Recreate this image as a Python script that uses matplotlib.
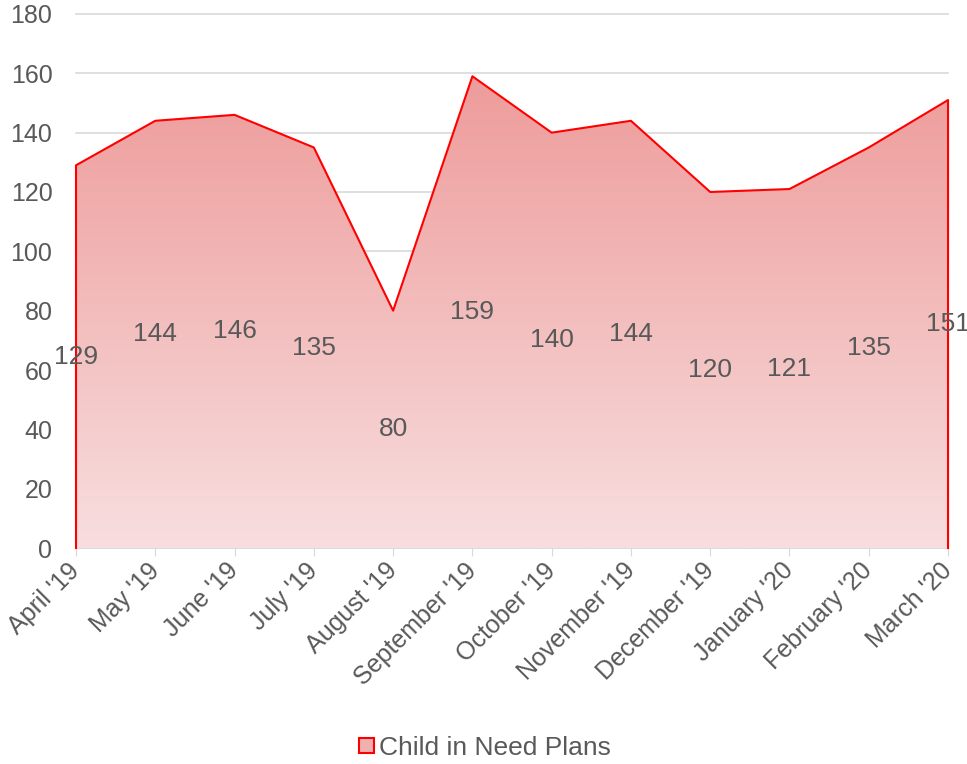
import numpy as np
from matplotlib import pyplot as plt
from matplotlib.colors import LinearSegmentedColormap
from matplotlib.patches import Polygon, Rectangle
from matplotlib.legend_handler import HandlerBase

plt.rcParams['font.family'] = ['Liberation Sans', 'DejaVu Sans']

months = ["April '19", "May '19", "June '19", "July '19", "August '19", "September '19",
          "October '19", "November '19", "December '19", "January '20", "February '20", "March '20"]
plans = [129, 144, 146, 135, 80, 159, 140, 144, 120, 121, 135, 151]
series_name = "Child in Need Plans"

text_col = "#595959"
top_col = "#EC9391"
bottom_col = "#F8DEDF"
fs = 18

fig = plt.figure(figsize=(9.67, 7.64), dpi=100)
ax = fig.add_axes([0.0786, 0.2827, 0.9018, 0.699])

x = np.arange(len(months))
ax.set_xlim(x[0], x[-1])
ax.set_ylim(0, 180)

# gradient fill clipped to the area polygon
cmap = LinearSegmentedColormap.from_list("grad", [bottom_col, top_col])
grad = np.linspace(0, 1, 256).reshape(-1, 1)
img = ax.imshow(grad, cmap=cmap, aspect='auto', origin='lower',
                extent=[x[0], x[-1], 0, 180], zorder=2)
verts = [(x[0], 0)] + list(zip(x, plans)) + [(x[-1], 0)]
poly = Polygon(verts, closed=True, facecolor='none', edgecolor='none')
ax.add_patch(poly)
img.set_clip_path(poly)

ax.plot(np.r_[x[0], x, x[-1]], np.r_[0, plans, 0], color='#FF0000', lw=1.5,
        zorder=3, clip_on=False)

for xi, v in zip(x, plans):
    ax.text(xi, v / 2, str(v), ha='center', va='center', fontsize=19, color=text_col, zorder=4)

ax.set_yticks(range(0, 181, 20))
ax.grid(axis='y', color='#D9D9D9', lw=1.2)
ax.set_axisbelow(True)
for s in ['top', 'right', 'left']:
    ax.spines[s].set_visible(False)
ax.spines['bottom'].set_color('#D9D9D9')
ax.spines['bottom'].set_linewidth(1.2)
ax.spines['bottom'].set_zorder(1)
ax.tick_params(axis='y', length=0, labelsize=fs, labelcolor=text_col, pad=17)
ax.tick_params(axis='x', length=6, color='#D9D9D9', labelsize=fs, labelcolor=text_col, pad=3)
ax.set_xticks(x)
ax.set_xticklabels(months, rotation=45, ha='right', va='center', rotation_mode='anchor')
for gl in ax.get_ygridlines():
    gl.set_clip_on(False)
for lbl in ax.get_xticklabels():
    lbl.set_y(-0.012)


class GradBox(HandlerBase):
    def create_artists(self, legend, orig, xd, yd, w, h, fontsize, trans):
        s = h * 0.8
        r = Rectangle((xd + w - s, yd + (h - s) / 2), s, s, facecolor='#F0B0B0',
                      edgecolor='#FF0000', lw=1.5, transform=trans)
        return [r]


handle = Rectangle((0, 0), 1, 1)
fig.legend([handle], [series_name], handler_map={Rectangle: GradBox()},
           loc='center', bbox_to_anchor=(0.5, 0.021), frameon=False, fontsize=19,
           labelcolor=text_col, handlelength=0.7, handletextpad=0.2)

fig.savefig("out.png", dpi=100)
